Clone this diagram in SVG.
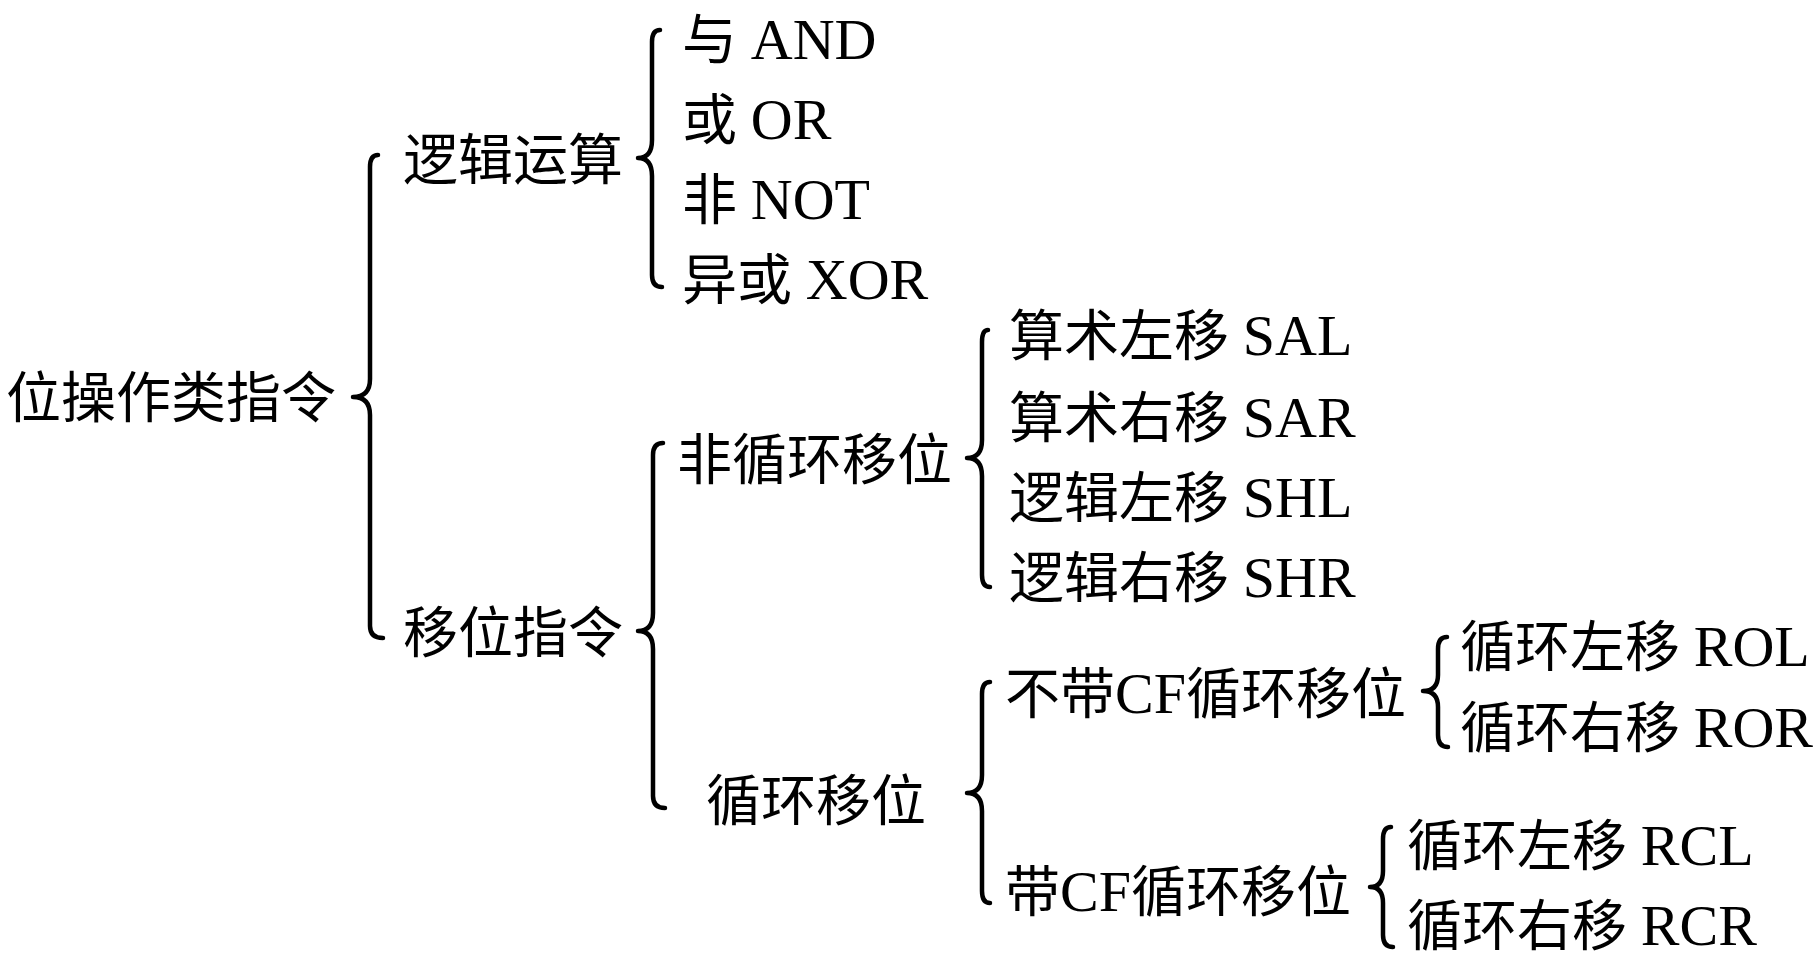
<svg xmlns="http://www.w3.org/2000/svg" width="1820" height="962" viewBox="0 0 1820 962">
<style>
  text { font-family: "Liberation Serif", "Noto Sans CJK SC", serif; font-size: 55px; fill: #000; }
  .l { font-size: 58px; }
  .brace { fill: none; stroke: #000; stroke-width: 4.5; stroke-linejoin: round; stroke-linecap: round; }
</style>
<rect width="1820" height="962" fill="#fff"/>
<g id="connectors">
  <path class="brace" d="M378,155 Q370,155 370,167 L370,379 Q370,397 353,397 Q370,397 370,415 L370,626 Q370,638 383,638"/>
  <path class="brace" d="M660,30 Q652,30 652,42 L652,140 Q652,158 638,158 Q652,158 652,176 L652,275 Q652,287 662,287"/>
  <path class="brace" d="M663,443 Q653,443 653,455 L653,613 Q653,631 638,631 Q653,631 653,649 L653,796 Q653,808 665,808"/>
  <path class="brace" d="M988,330 Q982,330 982,342 L982,440 Q982,458 967,458 Q982,458 982,476 L982,575 Q982,587 990,587"/>
  <path class="brace" d="M990,682 Q982,682 982,694 L982,775 Q982,793 967,793 Q982,793 982,811 L982,891 Q982,903 990,903"/>
  <path class="brace" d="M1447,637 Q1438,637 1438,649 L1438,675 Q1438,691 1423,691 Q1438,691 1438,707 L1438,735 Q1438,747 1448,747"/>
  <path class="brace" d="M1391,827 Q1383,827 1383,839 L1383,871 Q1383,887 1370,887 Q1383,887 1383,903 L1383,935 Q1383,947 1393,947"/>
</g>
<g id="root"><text x="6" y="417">位操作类指令</text></g>
<g id="logic"><text x="403" y="179">逻辑运算</text></g>
<g id="and"><text x="682" y="59">与 <tspan class="l">AND</tspan></text></g>
<g id="or"><text x="682" y="139">或 <tspan class="l">OR</tspan></text></g>
<g id="not"><text x="682" y="219">非 <tspan class="l">NOT</tspan></text></g>
<g id="xor"><text x="682" y="299">异或 <tspan class="l">XOR</tspan></text></g>
<g id="shift"><text x="403" y="652">移位指令</text></g>
<g id="noncirc"><text x="677" y="479">非循环移位</text></g>
<g id="sal"><text x="1009" y="355">算术左移 <tspan class="l">SAL</tspan></text></g>
<g id="sar"><text x="1009" y="437">算术右移 <tspan class="l">SAR</tspan></text></g>
<g id="shl"><text x="1009" y="517">逻辑左移 <tspan class="l">SHL</tspan></text></g>
<g id="shr"><text x="1009" y="597">逻辑右移 <tspan class="l">SHR</tspan></text></g>
<g id="circ"><text x="706" y="820">循环移位</text></g>
<g id="nocf"><text x="1005" y="713">不带<tspan class="l">CF</tspan>循环移位</text></g>
<g id="rol"><text x="1460" y="666">循环左移 <tspan class="l">ROL</tspan></text></g>
<g id="ror"><text x="1460" y="747">循环右移 <tspan class="l">ROR</tspan></text></g>
<g id="withcf"><text x="1005" y="911">带<tspan class="l">CF</tspan>循环移位</text></g>
<g id="rcl"><text x="1407" y="865">循环左移 <tspan class="l">RCL</tspan></text></g>
<g id="rcr"><text x="1407" y="945">循环右移 <tspan class="l">RCR</tspan></text></g>
</svg>
